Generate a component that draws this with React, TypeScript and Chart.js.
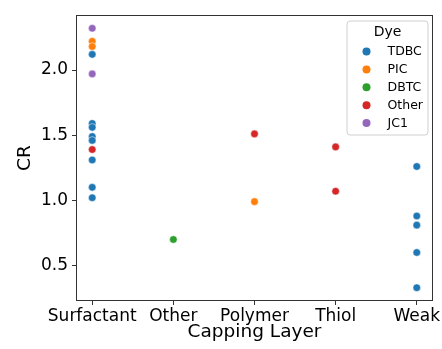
import React, { useEffect, useRef } from "react";
import { Chart, registerables } from "chart.js";

Chart.register(...registerables);

const categories = ["Surfactant", "Other", "Polymer", "Thiol", "Weak"];
const dyes = ["TDBC", "PIC", "DBTC", "Other", "JC1"];
const dyeColors = ["#1f77b4", "#ff7f0e", "#2ca02c", "#d62728", "#9467bd"];

const tdbcCapping = ["Surfactant", "Surfactant", "Surfactant", "Surfactant", "Surfactant", "Surfactant", "Surfactant", "Surfactant", "Weak", "Weak", "Weak", "Weak", "Weak"];
const tdbcCR = [2.12, 1.59, 1.56, 1.49, 1.46, 1.31, 1.10, 1.02, 1.26, 0.88, 0.81, 0.60, 0.33];
const picCapping = ["Surfactant", "Surfactant", "Polymer"];
const picCR = [2.22, 2.18, 0.99];
const dbtcCapping = ["Other"];
const dbtcCR = [0.70];
const otherCapping = ["Surfactant", "Polymer", "Thiol", "Thiol"];
const otherCR = [1.39, 1.51, 1.41, 1.07];
const jc1Capping = ["Surfactant", "Surfactant"];
const jc1CR = [2.32, 1.97];

const yTicks = [0.5, 1.0, 1.5, 2.0];

const seriesCapping = [tdbcCapping, picCapping, dbtcCapping, otherCapping, jc1Capping];
const seriesCR = [tdbcCR, picCR, dbtcCR, otherCR, jc1CR];

const FONT = "'DejaVu Sans', sans-serif";

const frameAndLegend = {
  id: "frameAndLegend",
  afterDraw(chart: any) {
    const ctx = chart.ctx;
    const a = chart.chartArea;
    ctx.save();
    ctx.strokeStyle = "#333";
    ctx.lineWidth = 1;
    ctx.strokeRect(Math.round(a.left) + 0.5, Math.round(a.top) + 0.5, Math.round(a.right - a.left) - 1, Math.round(a.bottom - a.top) - 1);

    const bx = a.right - 86;
    const by = a.top + 6;
    const bw = 81;
    const bh = 114;
    const r = 3;
    ctx.beginPath();
    ctx.moveTo(bx + r, by);
    ctx.lineTo(bx + bw - r, by);
    ctx.quadraticCurveTo(bx + bw, by, bx + bw, by + r);
    ctx.lineTo(bx + bw, by + bh - r);
    ctx.quadraticCurveTo(bx + bw, by + bh, bx + bw - r, by + bh);
    ctx.lineTo(bx + r, by + bh);
    ctx.quadraticCurveTo(bx, by + bh, bx, by + bh - r);
    ctx.lineTo(bx, by + r);
    ctx.quadraticCurveTo(bx, by, bx + r, by);
    ctx.closePath();
    ctx.fillStyle = "rgba(255,255,255,0.8)";
    ctx.fill();
    ctx.strokeStyle = "#d0d0d0";
    ctx.lineWidth = 1;
    ctx.stroke();

    ctx.fillStyle = "#000";
    ctx.textBaseline = "middle";
    ctx.textAlign = "center";
    ctx.font = `14px ${FONT}`;
    ctx.fillText("Dye", bx + bw / 2, by + 11);
    ctx.font = `12.5px ${FONT}`;
    ctx.textAlign = "left";
    dyes.forEach((d, i) => {
      const y = by + 30.5 + i * 17.9;
      ctx.beginPath();
      ctx.arc(bx + 19.5, y, 4, 0, Math.PI * 2);
      ctx.fillStyle = dyeColors[i];
      ctx.fill();
      ctx.fillStyle = "#000";
      ctx.fillText(d, bx + 40.5, y + 0.5);
    });
    ctx.restore();
  },
};

export default function App() {
  const ref = useRef<HTMLCanvasElement>(null);
  useEffect(() => {
    document.body.style.margin = "0";
    const canvas = ref.current!;
    const datasets = dyes.map((d, i) => ({
      label: d,
      data: seriesCR[i].map((v, j) => ({ x: categories.indexOf(seriesCapping[i][j]), y: v })),
      backgroundColor: dyeColors[i],
      borderColor: "#ffffff",
      borderWidth: 0.5,
      pointRadius: 3.8,
    }));
    const chart = new Chart(canvas, {
      type: "scatter",
      data: { datasets },
      plugins: [frameAndLegend],
      options: {
        responsive: false,
        animation: false,
        devicePixelRatio: 1,
        layout: { padding: { top: 15, right: 9, left: 0, bottom: 0 } },
        plugins: { legend: { display: false }, tooltip: { enabled: false } },
        scales: {
          x: {
            type: "linear",
            min: -0.2,
            max: 4.2,
            afterBuildTicks(scale: any) {
              scale.ticks = categories.map((_, i) => ({ value: i }));
            },
            afterFit(scale: any) {
              scale.height = 48;
              scale.paddingLeft = 0;
              scale.paddingRight = 0;
            },
            ticks: {
              autoSkip: false,
              maxRotation: 0,
              color: "#000",
              font: { family: FONT, size: 17 },
              padding: 1,
              callback: (v: any) => categories[Math.round(Number(v))] ?? "",
            },
            grid: { drawOnChartArea: false, drawTicks: true, tickLength: 4, color: "#333" },
            border: { display: false },
            title: {
              display: true,
              text: "Capping Layer",
              color: "#000",
              font: { family: FONT, size: 18.5 },
              padding: { top: 0, bottom: 6 },
            },
          },
          y: {
            type: "linear",
            min: 0.228,
            max: 2.422,
            afterBuildTicks(scale: any) {
              scale.ticks = yTicks.map((v) => ({ value: v }));
            },
            afterFit(scale: any) {
              scale.width = 76;
              scale.paddingTop = 0;
              scale.paddingBottom = 0;
            },
            ticks: {
              color: "#000",
              font: { family: FONT, size: 17 },
              padding: 4,
              callback: (v: any) => Number(v).toFixed(1),
            },
            grid: { drawOnChartArea: false, drawTicks: true, tickLength: 4, color: "#333" },
            border: { display: false },
            title: {
              display: true,
              text: "CR",
              color: "#000",
              font: { family: FONT, size: 18.5 },
              padding: { top: 14, bottom: 0 },
            },
          },
        },
      },
    });
    return () => chart.destroy();
  }, []);
  return (
    <div style={{ width: 442, height: 349 }}>
      <canvas ref={ref} width={442} height={349} style={{ width: 442, height: 349, display: "block" }} />
    </div>
  );
}
